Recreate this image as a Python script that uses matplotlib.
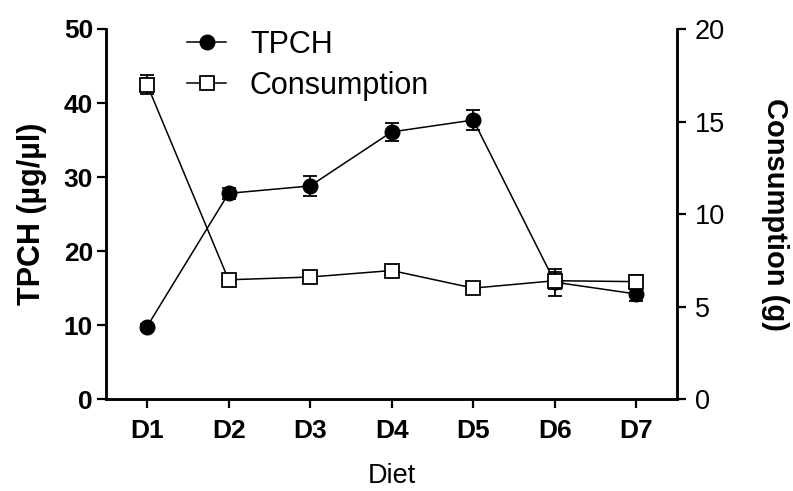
import matplotlib
matplotlib.use("Agg")
import matplotlib.pyplot as plt
from matplotlib.lines import Line2D

plt.rcParams['font.family'] = ['Liberation Sans', 'DejaVu Sans']

diets = ["D1", "D2", "D3", "D4", "D5", "D6", "D7"]
tpch = [9.8, 27.8, 28.8, 36.1, 37.7, 15.8, 14.2]
tpch_err = [0.4, 0.7, 1.3, 1.2, 1.35, 1.8, 0.9]
consumption = [17.0, 6.45, 6.6, 6.95, 6.0, 6.4, 6.35]
consumption_err = [0.5, 0.25, 0.3, 0.3, 0.3, 0.45, 0.35]

fig = plt.figure(figsize=(7.93, 4.91), dpi=100)
ax = fig.add_axes([0.134, 0.187, 0.72, 0.754])
ax2 = ax.twinx()

x = list(range(1, len(diets) + 1))

ax.errorbar(x, tpch, yerr=tpch_err, color='black', marker='o', markersize=10.5,
            linewidth=1.1, elinewidth=1.3, capsize=5, capthick=1.3, zorder=3)
ax2.errorbar(x, consumption, yerr=consumption_err, color='black', marker='s',
             markersize=10, markerfacecolor='white', markeredgewidth=1.3,
             linewidth=1.1, elinewidth=1.3, capsize=5, capthick=1.3, zorder=3)

ax.set_xlim(0.5, 7.5)
ax.set_ylim(0, 50)
ax2.set_ylim(0, 20)
ax.set_xticks(x)
ax.set_xticklabels(diets)
ax.set_yticks([0, 10, 20, 30, 40, 50])
ax2.set_yticks([0, 5, 10, 15, 20])

for a in (ax, ax2):
    a.spines['top'].set_visible(False)
    for s in a.spines.values():
        s.set_linewidth(1.8)
    a.tick_params(direction='out', length=6.5, width=1.6)

ax.tick_params(axis='x', labelsize=19, pad=8)
ax.tick_params(axis='y', labelsize=19, pad=3)
for lbl in ax.get_yticklabels() + ax.get_xticklabels():
    lbl.set_fontweight('bold')
ax2.tick_params(axis='y', labelsize=19.5, pad=6)

ax.set_xlabel("Diet", fontsize=19.5, labelpad=14)
ax.set_ylabel("TPCH (\u00b5g/\u00b5l)", fontsize=22, fontweight='bold', labelpad=12)
ax2.set_ylabel("Consumption (g)", fontsize=21, fontweight='bold', rotation=270, labelpad=46)

handles = [
    Line2D([], [], color='black', marker='o', markersize=10.5, linewidth=1.1),
    Line2D([], [], color='black', marker='s', markersize=10, markerfacecolor='white',
           markeredgewidth=1.3, linewidth=1.1),
]
ax2.legend(handles, ["TPCH", "Consumption"], loc='upper left',
           bbox_to_anchor=(0.142, 0.998), frameon=False, fontsize=22,
           handlelength=1.27, handletextpad=0.78, labelspacing=0.36,
           borderpad=0, borderaxespad=0)

fig.savefig("out.png", dpi=100)
